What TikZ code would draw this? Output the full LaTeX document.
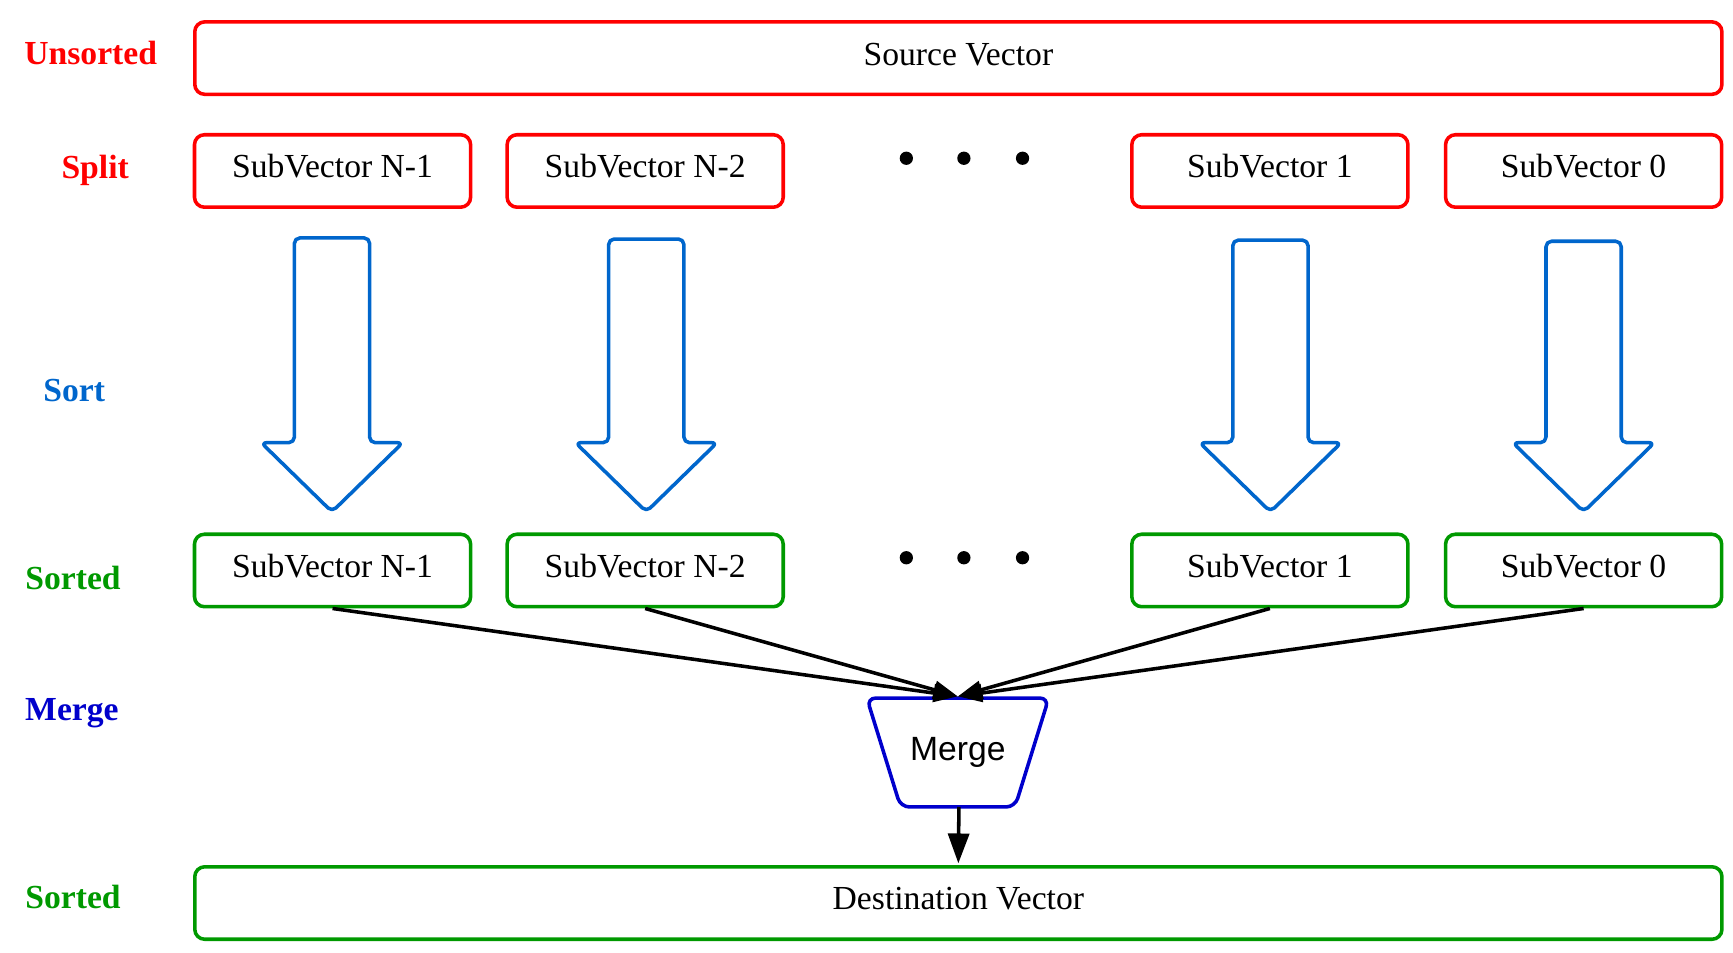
\documentclass[tikz,border=0pt]{standalone}
\usepackage{fontspec}
\setmainfont{Liberation Serif}
\newfontfamily\sansfam{Liberation Sans}
\usetikzlibrary{arrows.meta,calc}
\definecolor{cred}{RGB}{255,0,0}
\definecolor{cgreen}{RGB}{0,153,0}
\definecolor{cblue}{RGB}{0,102,204}
\definecolor{cdblue}{RGB}{0,0,204}
\newcommand{\sortarrow}[2]{%
  \draw[sortarr] (#1-34,#2) -- (#1+34,#2) -- (#1+34,400) -- (#1+64,400) -- (#1,462.5) -- (#1-64,400) -- (#1-34,400) -- cycle;}
\begin{document}
\begin{tikzpicture}[x=1pt,y=-1pt,
  box/.style={draw, line width=3.2pt, rounded corners=9pt, inner sep=0pt,
    minimum height=65.5pt, font=\fontsize{30.4}{36}\selectfont,
    text height=20.5pt, text depth=8pt},
  subbox/.style={box, minimum width=249.5pt},
  widebox/.style={box, minimum width=1380pt},
  lbl/.style={anchor=base, font=\fontsize{30.4}{36}\selectfont\bfseries},
  dot/.style={circle, fill=black, inner sep=0pt, minimum size=12pt},
  sortarr/.style={draw=cblue, line width=3.2pt, rounded corners=5pt, line join=round},
  conn/.style={draw=black, line width=3.2pt, -{Triangle[length=22pt,width=16pt]}},
  bigconn/.style={draw=black, line width=3.2pt, -{Triangle[length=27pt,width=19pt]}}]
\useasboundingbox (0,0) rectangle (1566,861);
% labels
\node[lbl, text=cred] (lunsorted) at (82,58) {Unsorted};
\node[lbl, text=cred] (lsplit) at (86,161) {Split};
\node[lbl, text=cblue] (lsort) at (67,363) {Sort};
\node[lbl, text=cgreen] (lsorted) at (66,533) {Sorted};
\node[lbl, text=cdblue] (lmerge) at (65,651) {Merge};
\node[lbl, text=cgreen] (lsorted2) at (66,821) {Sorted};
% source
\node[widebox, draw=cred] (src) at (866,52.5) {Source Vector};
% split boxes
\node[subbox, draw=cred] (s1) at (300.5,154.5) {SubVector N-1};
\node[subbox, draw=cred] (s2) at (583,154.5) {SubVector N-2};
\node[subbox, draw=cred] (s3) at (1147.5,154.5) {SubVector 1};
\node[subbox, draw=cred] (s4) at (1431,154.5) {SubVector 0};
\node[dot] (d1) at (819,143) {};
\node[dot] (d2) at (871,143) {};
\node[dot] (d3) at (924,143) {};
% sort arrows
\sortarrow{300}{215}
\sortarrow{584}{216}
\sortarrow{1148}{217}
\sortarrow{1431}{218}
% sorted boxes
\node[subbox, draw=cgreen] (t1) at (300.5,515.5) {SubVector N-1};
\node[subbox, draw=cgreen] (t2) at (583,515.5) {SubVector N-2};
\node[subbox, draw=cgreen] (t3) at (1147.5,515.5) {SubVector 1};
\node[subbox, draw=cgreen] (t4) at (1431,515.5) {SubVector 0};
\node[dot] (e1) at (819,504) {};
\node[dot] (e2) at (871,504) {};
\node[dot] (e3) at (924,504) {};
% merge
\node[inner sep=0pt, minimum width=164pt, minimum height=98pt,
  font=\fontsize{30.4}{36}\selectfont\sansfam] (merge) at (865.5,680) {Merge};
\draw[cdblue, line width=3.2pt, rounded corners=8pt]
  (merge.north west) -- (merge.north east) -- ($(merge.south east)+(-30.5,0)$)
  -- ($(merge.south west)+(30.5,0)$) -- cycle;
% destination
\node[widebox, draw=cgreen] (dst) at (866,816) {Destination Vector};
% connectors
\coordinate (mtop) at ([yshift=1.5pt]merge.north);
\draw[conn] (t1.south) -- (mtop);
\draw[conn] (t2.south) -- (mtop);
\draw[conn] (t3.south) -- (mtop);
\draw[conn] (t4.south) -- (mtop);
\draw[bigconn] ([xshift=1pt]merge.south) -- ([yshift=1.5pt]dst.north);
\end{tikzpicture}
\end{document}
